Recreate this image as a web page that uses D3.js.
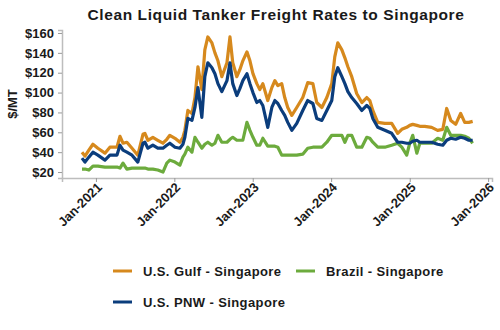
<!DOCTYPE html>
<html>
<head>
<meta charset="utf-8">
<script src="https://cdn.jsdelivr.net/npm/d3@7"></script>
<style>
  body { margin: 0; background: #fff; }
  svg text { font-family: "Liberation Sans", Arial, sans-serif; font-weight: bold; fill: #1a1a1a; }
</style>
</head>
<body>
<script>
// データ
var dates = ["2020-10-28","2020-11-11","2020-11-29","2020-12-18","2021-01-10","2021-02-12","2021-03-07","2021-04-09","2021-04-23","2021-05-07",
  "2021-05-25","2021-06-18","2021-07-15","2021-08-08","2021-08-17","2021-08-31","2021-09-23","2021-10-16","2021-11-09","2021-11-27",
  "2021-12-11","2022-01-04","2022-01-27","2022-02-10","2022-02-19","2022-03-05","2022-03-24","2022-04-07","2022-04-21","2022-05-09",
  "2022-05-23","2022-06-06","2022-06-25","2022-07-09","2022-07-23","2022-08-10","2022-09-03","2022-09-17","2022-09-30","2022-10-19",
  "2022-11-02","2022-11-16","2022-12-05","2022-12-19","2023-01-02","2023-01-20","2023-02-03","2023-02-17","2023-03-12","2023-03-31",
  "2023-04-14","2023-04-28","2023-05-16","2023-05-30","2023-06-13","2023-07-02","2023-07-25","2023-08-22","2023-09-14","2023-10-08",
  "2023-10-26","2023-11-19","2023-12-12","2024-01-04","2024-01-18","2024-02-01","2024-02-20","2024-03-05","2024-03-19","2024-04-06",
  "2024-04-29","2024-05-23","2024-06-15","2024-06-29","2024-07-13","2024-08-05","2024-09-07","2024-10-09","2024-11-06","2024-11-25",
  "2024-12-18","2025-01-01","2025-01-15","2025-02-03","2025-02-17","2025-03-12","2025-04-13","2025-05-11","2025-06-04","2025-06-22",
  "2025-07-11","2025-08-03","2025-08-26","2025-09-14","2025-10-03","2025-10-21"];

var gulf = [40,36,42,48,44,39,45,45,56,49, 50,44,37,58,59,52,55,52,49,53,
  57,54,50,55,62,82,79,95,126,103, 143,156,150,140,132,116,130,156,130,116,
  123,132,141,132,119,109,103,109,92,105, 112,107,109,95,85,77,85,95,110,109,
  90,85,95,109,136,150,143,135,126,116, 99,90,95,92,82,70,69,69,59,63,
  65,67,68,67,66,66,65,62,63,84, 72,68,79,70,70,71];

var pnw = [34,30,35,40,37,32,37,37,47,42, 40,37,30,49,50,44,47,44,44,47,
  49,45,44,48,55,74,72,85,105,75, 116,130,125,119,109,101,112,130,109,97,
  104,112,119,109,100,90,92,87,65,85, 92,89,82,77,70,62,69,82,92,89,
  74,72,82,92,116,125,116,109,101,95, 89,82,87,84,74,65,62,59,50,50,
  49,49,51,52,50,50,50,48,47,52, 54,53,55,54,52,52];

var brazil = [23,23,22,26,26,25,25,25,24,29, 23,24,24,24,24,23,23,22,20,29,
  32,30,27,35,38,45,40,55,50,44, 48,50,47,49,57,50,50,53,55,52,
  52,52,70,62,55,47,47,54,46,46, 46,45,37,37,37,37,37,38,44,45,
  45,45,50,57,57,57,57,50,57,57, 45,45,55,54,50,45,45,47,49,45,
  37,49,57,39,49,49,49,54,52,65, 57,57,57,56,54,49];

var seriesNames = ["U.S. Gulf - Singapore", "Brazil - Singapore", "U.S. PNW - Singapore"];
var seriesColors = ["#d6891d", "#6cab3d", "#0b3d7c"];
var yTicks = [20, 40, 60, 80, 100, 120, 140, 160];
var xTicks = ["2021-01-01","2022-01-01","2023-01-01","2024-01-01","2025-01-01","2026-01-01"];

// 基本設定
var w = 500;
var h = 330;
var parse = d3.timeParse("%Y-%m-%d");

var svg = d3.select("body").append("svg")
  .attr("width", w)
  .attr("height", h);

var x = d3.scaleTime()
  .domain([parse("2020-07-27"), parse("2026-01-19")])
  .range([62, 492]);

var y = d3.scaleLinear()
  .domain([14, 163])
  .range([178, 30]);

// タイトル
svg.append("text")
  .attr("x", 276)
  .attr("y", 20)
  .attr("text-anchor", "middle")
  .attr("font-size", "15.5px")
  .attr("letter-spacing", "0.6px")
  .text("Clean Liquid Tanker Freight Rates to Singapore");

// y軸
var yAxis = svg.append("g")
  .attr("transform", "translate(62,0)")
  .call(d3.axisLeft(y).tickValues(yTicks).tickSize(4).tickPadding(4)
    .tickFormat(function(d) { return "$" + d; }));
yAxis.selectAll("text").attr("font-size", "13px").attr("fill", "#1a1a1a");

// x軸
var xAxis = svg.append("g")
  .attr("transform", "translate(0,178)")
  .call(d3.axisBottom(x).tickValues(xTicks.map(parse)).tickSize(4)
    .tickFormat(d3.timeFormat("%b-%Y")));
xAxis.selectAll("text")
  .attr("font-size", "13px")
  .attr("fill", "#1a1a1a")
  .attr("text-anchor", "end")
  .attr("dx", "-0.2em")
  .attr("dy", "0.35em")
  .attr("transform", "rotate(-45)");

svg.selectAll(".domain").attr("stroke", "#bdbdbd").attr("stroke-width", 1.5);
svg.selectAll(".tick line").attr("stroke", "#9a9a9a");

// 軸ラベル
svg.append("text")
  .attr("transform", "translate(17,104) rotate(-90)")
  .attr("text-anchor", "middle")
  .attr("font-size", "13px")
  .text("$/MT");

// データの線
var line = d3.line()
  .x(function(d) { return x(d.date); })
  .y(function(d) { return y(d.value); });

var allSeries = [gulf, brazil, pnw];
var drawOrder = [1, 0, 2];
drawOrder.forEach(function(k) {
  var pts = dates.map(function(dt, i) { return {date: parse(dt), value: allSeries[k][i]}; });
  svg.append("path")
    .datum(pts)
    .attr("d", line)
    .attr("fill", "none")
    .attr("stroke", seriesColors[k])
    .attr("stroke-width", 3.2)
    .attr("stroke-linejoin", "round");
});

// 凡例
var legendPos = [[113, 271], [296, 271], [113, 302]];
seriesNames.forEach(function(name, i) {
  var g = svg.append("g").attr("transform", "translate(" + legendPos[i][0] + "," + legendPos[i][1] + ")");
  g.append("line")
    .attr("x1", 0).attr("x2", 19)
    .attr("y1", 0).attr("y2", 0)
    .attr("stroke", seriesColors[i])
    .attr("stroke-width", 3);
  g.append("text")
    .attr("x", 30)
    .attr("y", 4.5)
    .attr("font-size", "13px")
    .attr("letter-spacing", "0.4px")
    .text(name);
});
</script>
</body>
</html>
